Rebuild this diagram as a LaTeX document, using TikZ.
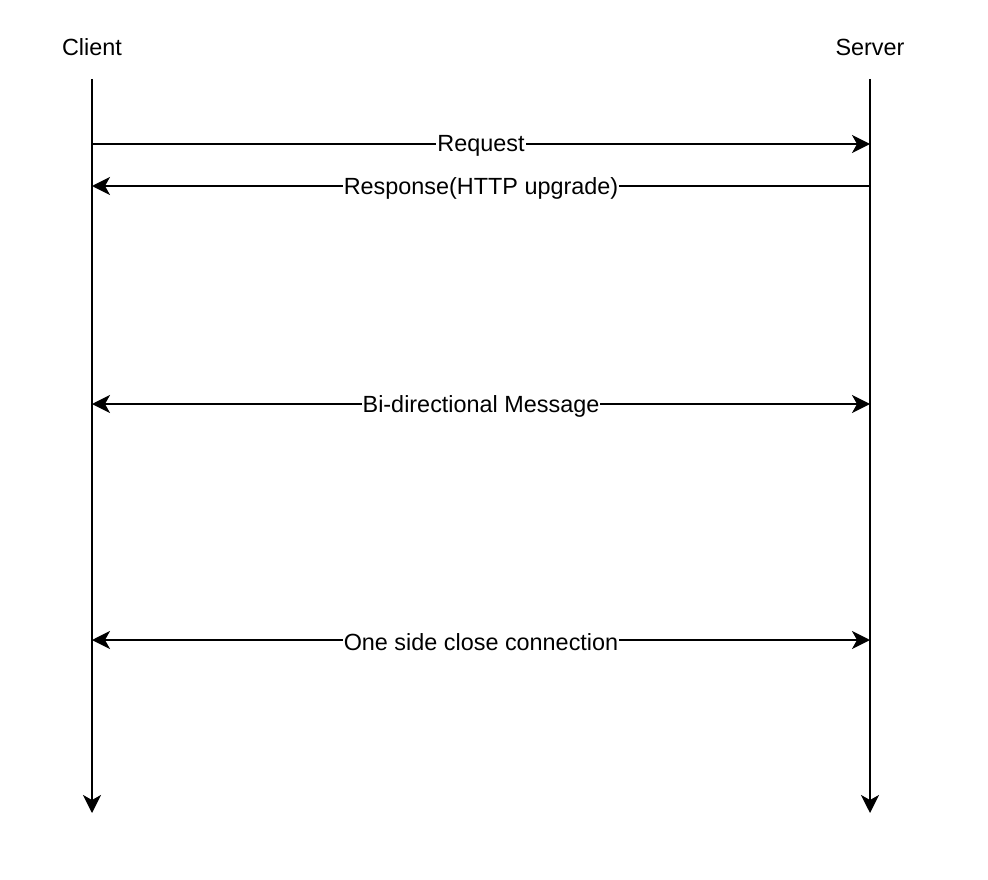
\documentclass[tikz,border=0pt]{standalone}
\usepackage{fontspec}
\setmainfont{Liberation Sans}
\usetikzlibrary{arrows.meta}
\begin{document}
\begin{tikzpicture}[x=1pt,y=-1pt,
  line/.style={line width=2pt},
  tip/.style={-{Stealth[length=18pt,width=18pt,inset=5pt]}},
  both/.style={{Stealth[length=18pt,width=18pt,inset=5pt]}-{Stealth[length=18pt,width=18pt,inset=5pt]}},
  lbl/.style={fill=white,inner sep=1pt,yshift=-2pt,font=\fontsize{23.4}{28}\selectfont},
  head/.style={font=\fontsize{23.4}{28}\selectfont,inner sep=0pt}]
\useasboundingbox (0,0) rectangle (988,880);
\node[head] (client) at (92,47) {Client};
\node[head] (server) at (870,47) {Server};
\coordinate (ctop) at (92,79);
\coordinate (cbot) at (92,813);
\coordinate (stop) at (870,79);
\coordinate (sbot) at (870,813);
\draw[line,tip] (ctop) -- (cbot);
\draw[line,tip] (stop) -- (sbot);
\coordinate (c1) at (92,144); \coordinate (s1) at (870,144);
\coordinate (c2) at (92,186); \coordinate (s2) at (870,186);
\coordinate (c3) at (92,404); \coordinate (s3) at (870,404);
\coordinate (c4) at (92,640); \coordinate (s4) at (870,640);
\draw[line,tip] (c1) -- node[lbl] (m1) {Request} (s1);
\draw[line,tip] (s2) -- node[lbl] (m2) {Response(HTTP upgrade)} (c2);
\draw[line,both] (c3) -- node[lbl] (m3) {Bi-directional Message} (s3);
\draw[line,both] (c4) -- node[lbl] (m4) {One side close connection} (s4);
\end{tikzpicture}
\end{document}
